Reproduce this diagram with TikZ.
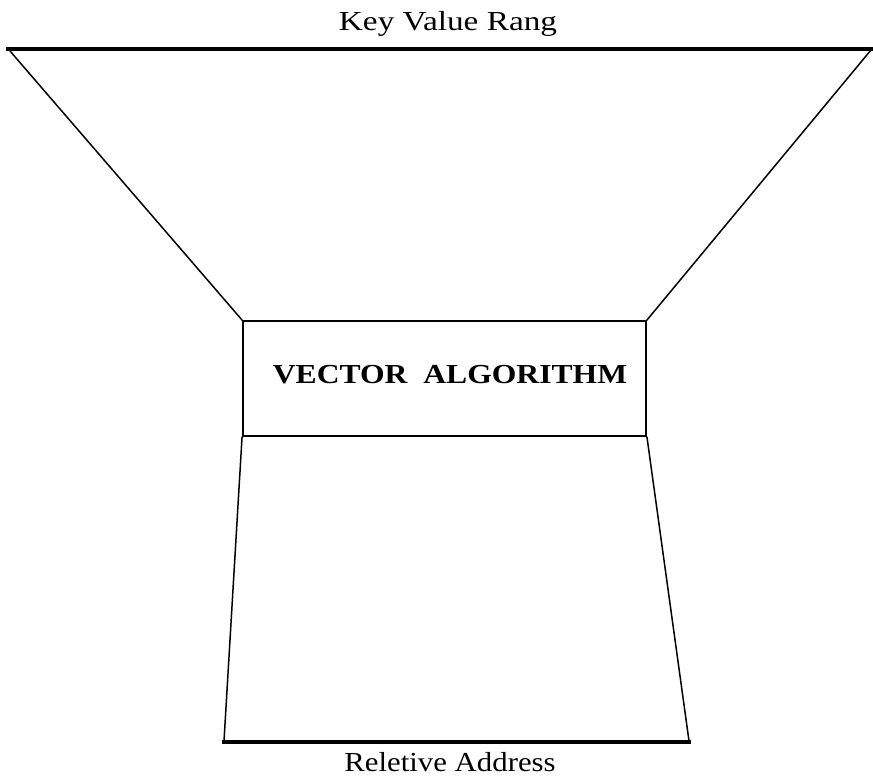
\documentclass[tikz,border=0pt]{standalone}
\usepackage{fontspec}
\usepackage{graphicx}
\setmainfont{Liberation Serif}
\begin{document}
\begin{tikzpicture}[x=1pt,y=-1pt,
  thin line/.style={line width=1.5pt,line cap=round},
  thick bar/.style={line width=4.5pt},
  lbl/.style={font=\fontsize{27.5}{30}\selectfont,inner sep=0pt,anchor=base},
  algobox/.style={draw,line width=1.9pt,minimum width=403pt,minimum height=115pt,inner sep=0pt}]
\useasboundingbox (0,0) rectangle (873,778);
% top bar
\coordinate (topL) at (6,49);
\coordinate (topR) at (873,49);
\draw[thick bar] (topL) -- (topR);
\coordinate (dl) at (10,51);
\coordinate (dr) at (871,50);
% box
\node[algobox] (box) at (444.5,378.5) {};
\node[lbl,font=\bfseries\fontsize{27.5}{30}\selectfont] (algo) at (450,383) {\scalebox{1.15}[1]{VECTOR\ \ ALGORITHM}};
\draw[thin line] (dl) -- (box.north west);
\draw[thin line] (dr) -- (box.north east);
% bottom bar
\coordinate (botL) at (222,742);
\coordinate (botR) at (691,742);
\coordinate (bl) at (224,741);
\coordinate (br) at (689,741);
\draw[thick bar] (botL) -- (botR);
\draw[thin line] (box.south west) -- (bl);
\draw[thin line] (box.south east) -- (br);
% labels
\node[lbl] (key) at (448,31) {\scalebox{1.21}[1]{Key Value Rang}};
\node[lbl] (rel) at (450,771) {\scalebox{1.12}[1]{Reletive Address}};
\end{tikzpicture}
\end{document}
